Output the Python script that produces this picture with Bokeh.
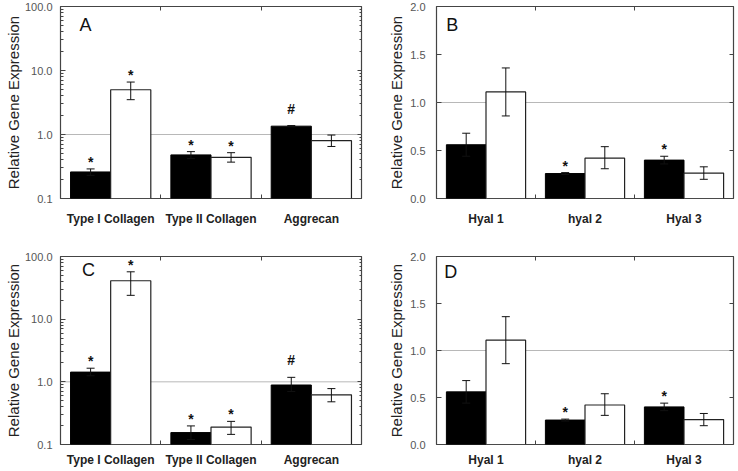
from bokeh.plotting import figure
from bokeh.models import (ColumnDataSource, Range1d, LinearAxis, LogAxis,
                          FixedTicker, PrintfTickFormatter, Span, Whisker,
                          TeeHead, Label)
from bokeh.transform import dodge
from bokeh.layouts import column, row
from bokeh.embed import file_html
from bokeh.resources import INLINE
from bokeh.core.properties import value

# ---------------- data ----------------
collagen_cats = ["Type I Collagen", "Type II Collagen", "Aggrecan"]
hyal_cats = ["Hyal 1", "hyal 2", "Hyal 3"]

a_black = [0.26, 0.48, 1.35]
a_black_lo = [0.23, 0.42, 1.32]
a_black_hi = [0.29, 0.54, 1.38]
a_white = [5.0, 0.44, 0.80]
a_white_lo = [3.5, 0.37, 0.65]
a_white_hi = [6.6, 0.52, 0.98]
a_black_marks = ["*", "*", "#"]
a_white_marks = ["*", "*", ""]

b_black = [0.56, 0.26, 0.40]
b_black_lo = [0.44, 0.25, 0.36]
b_black_hi = [0.68, 0.27, 0.44]
b_white = [1.11, 0.42, 0.265]
b_white_lo = [0.86, 0.31, 0.20]
b_white_hi = [1.36, 0.54, 0.33]
b_black_marks = ["", "*", "*"]
b_white_marks = ["", "", ""]

c_black = [1.43, 0.155, 0.89]
c_black_lo = [1.25, 0.12, 0.70]
c_black_hi = [1.65, 0.198, 1.18]
c_white = [41.0, 0.19, 0.62]
c_white_lo = [24.0, 0.145, 0.48]
c_white_hi = [57.0, 0.234, 0.78]
c_black_marks = ["*", "*", "#"]
c_white_marks = ["*", "*", ""]

d_black = [0.56, 0.26, 0.40]
d_black_lo = [0.44, 0.25, 0.36]
d_black_hi = [0.68, 0.27, 0.44]
d_white = [1.11, 0.42, 0.265]
d_white_lo = [0.86, 0.31, 0.20]
d_white_hi = [1.36, 0.54, 0.33]
d_black_marks = ["", "*", "*"]
d_white_marks = ["", "", ""]

log_ticks = [0.1, 1, 10, 100]
lin_ticks = [0.0, 0.5, 1.0, 1.5, 2.0]
y_title = "Relative Gene Expression"

# ---------------- styling ----------------
FONT = "Liberation Sans"
FRAME = "#444444"
OFF = 0.2
BAR_W = 0.4
MARK_OFFSET = {"*": -7, "#": -17, "": 0}


def tick_only_axis(cls, ticker, **kw):
    return cls(ticker=ticker, major_tick_in=4, major_tick_out=0, minor_tick_in=2, minor_tick_out=0,
               major_label_text_font_size="0px", major_label_standoff=0,
               major_label_overrides={float(t): "" for t in ticker.ticks},
               axis_line_color=None, major_tick_line_color=FRAME, minor_tick_line_color=FRAME, **kw)


def panel(cats, black, black_lo, black_hi, white, white_lo, white_hi, bmarks, wmarks,
          letter, letter_pos, log, width, height, borders, cat_standoff, ystandoffs):
    left, right, top, bottom = borders
    tick_standoff, title_standoff = ystandoffs
    n = len(cats)
    pos = [i + 0.5 for i in range(n)]
    y_range = Range1d(0.1, 100) if log else Range1d(0, 2)
    p = figure(width=width, height=height, x_range=Range1d(0, n),
               y_range=y_range, y_axis_type="log" if log else "linear",
               x_axis_location=None, y_axis_location=None,
               output_backend="svg", toolbar_location=None,
               min_border_left=left, min_border_right=right,
               min_border_top=top, min_border_bottom=bottom,
               outline_line_color=FRAME, outline_line_width=1.2,
               background_fill_color="white", border_fill_color="white")
    p.grid.visible = False

    if log:
        minor = [m * 10.0 ** e for e in (-1, 0, 1) for m in range(2, 10)]
        yt = FixedTicker(ticks=log_ticks, minor_ticks=minor)
        ycls = LogAxis
    else:
        yt = FixedTicker(ticks=lin_ticks, minor_ticks=[])
        ycls = LinearAxis

    yax = ycls(ticker=yt, formatter=PrintfTickFormatter(format="%.1f"),
               axis_label=y_title, axis_label_text_font=FONT, axis_label_text_font_size="15px",
               axis_label_text_font_style="normal", axis_label_text_color="#222222",
               axis_label_standoff=title_standoff,
               major_label_text_font=FONT, major_label_text_font_size="11px",
               major_label_text_color="#555555", major_label_standoff=tick_standoff,
               major_tick_in=5, major_tick_out=0, minor_tick_in=3, minor_tick_out=0,
               axis_line_color=None, major_tick_line_color=FRAME, minor_tick_line_color=FRAME)
    p.add_layout(yax, "left")
    yt2 = FixedTicker(ticks=yt.ticks, minor_ticks=yt.minor_ticks)
    p.add_layout(tick_only_axis(ycls, yt2), "right")

    bounds = [float(i) for i in range(1, n)]
    p.add_layout(tick_only_axis(LinearAxis, FixedTicker(ticks=bounds, minor_ticks=[])), "above")

    xax = LinearAxis(ticker=FixedTicker(ticks=pos, minor_ticks=bounds),
                     major_label_overrides={float(x): c for x, c in zip(pos, cats)},
                     major_tick_in=0, major_tick_out=0, major_tick_line_color=None,
                     minor_tick_in=4, minor_tick_out=0, minor_tick_line_color=FRAME,
                     axis_line_color=None, major_label_text_font=FONT,
                     major_label_text_font_size="12px", major_label_text_font_style="bold",
                     major_label_text_color="#222222", major_label_standoff=cat_standoff)
    p.add_layout(xax, "below")

    p.add_layout(Span(location=1, dimension="width", line_color="#b8b8b8", line_width=1,
                      level="underlay"))

    src = ColumnDataSource(dict(pos=pos, cat=cats, black=black, black_lo=black_lo,
                                black_hi=black_hi, white=white, white_lo=white_lo,
                                white_hi=white_hi, bmarks=bmarks, wmarks=wmarks,
                                boff=[MARK_OFFSET[m] for m in bmarks],
                                woff=[MARK_OFFSET[m] for m in wmarks]))
    floor = y_range.start
    xb = dodge("pos", -OFF)
    xw = dodge("pos", OFF)
    p.vbar(x=xb, top="black", bottom=floor, width=BAR_W, source=src,
           fill_color="black", line_color="black", line_width=1)
    p.vbar(x=xw, top="white", bottom=floor, width=BAR_W, source=src,
           fill_color="white", line_color="#222222", line_width=1.2)

    for base, lo, hi in ((xb, "black_lo", "black_hi"), (xw, "white_lo", "white_hi")):
        p.add_layout(Whisker(source=src, base=base, lower=lo, upper=hi, level="annotation",
                             line_color="#111111", line_width=1,
                             upper_head=TeeHead(size=8, line_color="#111111", line_width=1),
                             lower_head=TeeHead(size=8, line_color="#111111", line_width=1)))

    for x, y, t, o in ((xb, "black_hi", "bmarks", "boff"), (xw, "white_hi", "wmarks", "woff")):
        p.text(x=x, y=y, text=t, source=src, text_align="center", text_baseline="middle",
               y_offset=o, text_font=value(FONT), text_font_size="14px",
               text_font_style="bold", text_color="#111111")

    p.add_layout(Label(x=letter_pos[0], y=letter_pos[1], text=letter,
                       text_font=FONT, text_font_size="18px", text_align="center",
                       text_baseline="middle", text_color="#111111"))
    return p


pa = panel(collagen_cats, a_black, a_black_lo, a_black_hi, a_white, a_white_lo, a_white_hi,
           a_black_marks, a_white_marks, "A", (0.25, 52), True, 366, 235, (60, 5, 6, 37), 13, (8, 0))
pb = panel(hyal_cats, b_black, b_black_lo, b_black_hi, b_white, b_white_lo, b_white_hi,
           b_black_marks, b_white_marks, "B", (0.16, 1.81), False, 370, 235, (70, 3, 6, 37), 13, (11, 2))
pc = panel(collagen_cats, c_black, c_black_lo, c_black_hi, c_white, c_white_lo, c_white_hi,
           c_black_marks, c_white_marks, "C", (0.28, 60), True, 366, 234, (60, 5, 21, 23), 8, (8, 0))
pd_ = panel(hyal_cats, d_black, d_black_lo, d_black_hi, d_white, d_white_lo, d_white_hi,
            d_black_marks, d_white_marks, "D", (0.145, 1.83), False, 370, 234, (70, 3, 21, 23), 8, (11, 2))

layout = column(row(pa, pb), row(pc, pd_))
open("out.html", "w").write(file_html(layout, INLINE))
